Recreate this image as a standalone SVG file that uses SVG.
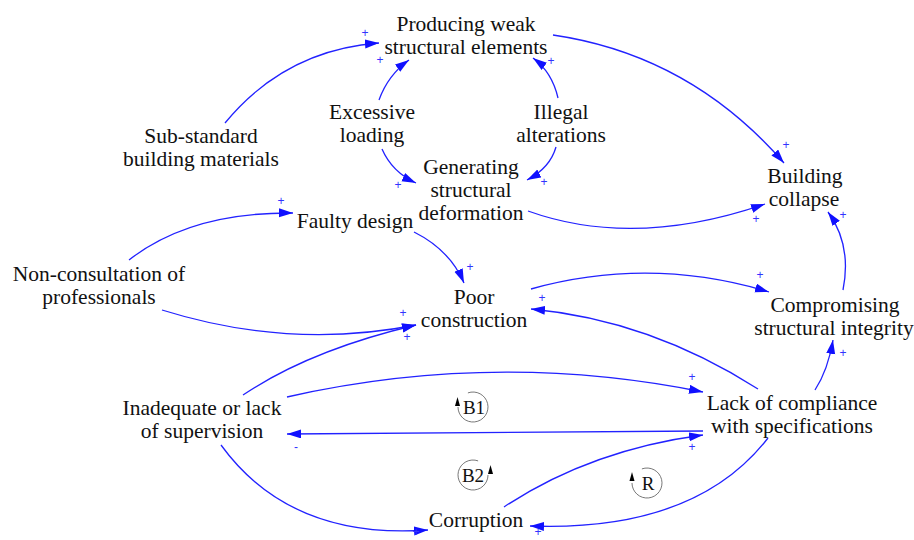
<svg xmlns="http://www.w3.org/2000/svg" width="914" height="540" viewBox="0 0 914 540">
<defs>
<style>
.lbl{font-family:"Liberation Serif","Times New Roman","DejaVu Serif",serif;font-size:21.5px;fill:#111;text-anchor:middle}
.link{fill:none;stroke:#2222ff;stroke-width:1.3;marker-end:url(#arr)}
.pol{font-family:"Liberation Sans",Arial,sans-serif;font-size:12px;fill:#3333ff;text-anchor:middle}
.loop{fill:none;stroke:#555;stroke-width:0.8}
.lt{font-family:"Liberation Serif","Times New Roman","DejaVu Serif",serif;font-size:19px;fill:#111;text-anchor:middle}
</style>
<marker id="arr" markerUnits="userSpaceOnUse" markerWidth="15" markerHeight="10" refX="14" refY="4.5" orient="auto">
<path d="M0,0 L14,4.5 L0,9 Z" fill="#1010ff"/>
</marker>
</defs>
<rect width="914" height="540" fill="#fff"/>
<g id="connectors">
<path class="link" d="M225,123 Q285,50 379,43"/>
<path class="link" d="M379,100 Q388,75 409,60"/>
<path class="link" d="M382,149 Q392,172 416,183"/>
<path class="link" d="M558,98 Q552,72 533,58"/>
<path class="link" d="M556,147 Q550,168 527,180"/>
<path class="link" d="M553,35 Q690,55 784,163"/>
<path class="link" d="M528,211 Q634,249 765,204"/>
<path class="link" d="M843,290 Q852,245 828,212"/>
<path class="link" d="M129,260 Q190,212 293,213"/>
<path class="link" d="M414,232 Q450,250 464,283"/>
<path class="link" d="M162,310 Q290,350 416,325"/>
<path class="link" d="M243,395 Q310,350 416,325"/>
<path class="link" d="M531,289 Q650,256 769,292"/>
<path class="link" d="M758,389 Q650,320 531,309"/>
<path class="link" d="M815,390 Q828,370 833,340"/>
<path class="link" d="M287,397 Q495,350 703,392"/>
<path class="link" d="M703,431 L287,434"/>
<path class="link" d="M221,445 Q290,540 428,530"/>
<path class="link" d="M504,507 Q590,450 703,435"/>
<path class="link" d="M768,438 C720,500 640,530 530,526"/>
<g id="polarities">
<text class="pol" x="365" y="37">+</text>
<text class="pol" x="380" y="64">+</text>
<text class="pol" x="398" y="189">+</text>
<text class="pol" x="551" y="65">+</text>
<text class="pol" x="544" y="186">+</text>
<text class="pol" x="786" y="149">+</text>
<text class="pol" x="756" y="223">+</text>
<text class="pol" x="843" y="219">+</text>
<text class="pol" x="281" y="205">+</text>
<text class="pol" x="470" y="271">+</text>
<text class="pol" x="403" y="317">+</text>
<text class="pol" x="407" y="341">+</text>
<text class="pol" x="760" y="279">+</text>
<text class="pol" x="542" y="302">+</text>
<text class="pol" x="843" y="357">+</text>
<text class="pol" x="692" y="381">+</text>
<text class="pol" x="296" y="451">-</text>
<text class="pol" x="416" y="536">+</text>
<text class="pol" x="538" y="536">+</text>
<text class="pol" x="692" y="451">+</text>
</g>
</g>
<g id="loop-B1">
<path class="loop" d="M467.9,392.9 A15,15 0 1 1 458,407"/>
<path d="M457.5,397 L455,406 L460,406 Z" fill="#000"/>
<text class="lt" x="474" y="414">B1</text>
</g>
<g id="loop-B2">
<path class="loop" d="M478.1,460.9 A15,15 0 1 0 488,475"/>
<path d="M490.5,465 L488,474 L493,474 Z" fill="#000"/>
<text class="lt" x="473" y="482">B2</text>
</g>
<g id="loop-R">
<path class="loop" d="M641.9,468.9 A15,15 0 1 1 632,483"/>
<path d="M632,472 L629.5,481 L634.5,481 Z" fill="#000"/>
<text class="lt" x="648" y="490">R</text>
</g>
<g id="n-producing"><text class="lbl" x="466" y="31">Producing weak</text><text class="lbl" x="466" y="54">structural elements</text></g>
<g id="n-substandard"><text class="lbl" x="201" y="143">Sub-standard</text><text class="lbl" x="201" y="166">building materials</text></g>
<g id="n-excessive"><text class="lbl" x="372" y="119">Excessive</text><text class="lbl" x="372" y="142">loading</text></g>
<g id="n-illegal"><text class="lbl" x="561" y="119">Illegal</text><text class="lbl" x="561" y="142">alterations</text></g>
<g id="n-generating"><text class="lbl" x="471" y="174">Generating</text><text class="lbl" x="471" y="197">structural</text><text class="lbl" x="471" y="220">deformation</text></g>
<g id="n-collapse"><text class="lbl" x="805" y="183">Building</text><text class="lbl" x="804" y="206">collapse</text></g>
<g id="n-faulty"><text class="lbl" x="355" y="228">Faulty design</text></g>
<g id="n-nonconsult"><text class="lbl" x="99" y="281">Non-consultation of</text><text class="lbl" x="99" y="304">professionals</text></g>
<g id="n-poor"><text class="lbl" x="474" y="304">Poor</text><text class="lbl" x="474" y="327">construction</text></g>
<g id="n-compromising"><text class="lbl" x="835" y="312">Compromising</text><text class="lbl" x="834" y="335">structural integrity</text></g>
<g id="n-lack"><text class="lbl" x="792" y="410">Lack of compliance</text><text class="lbl" x="792" y="433">with specifications</text></g>
<g id="n-inadequate"><text class="lbl" x="202" y="415">Inadequate or lack</text><text class="lbl" x="202" y="438">of supervision</text></g>
<g id="n-corruption"><text class="lbl" x="476" y="527">Corruption</text></g>
</svg>
